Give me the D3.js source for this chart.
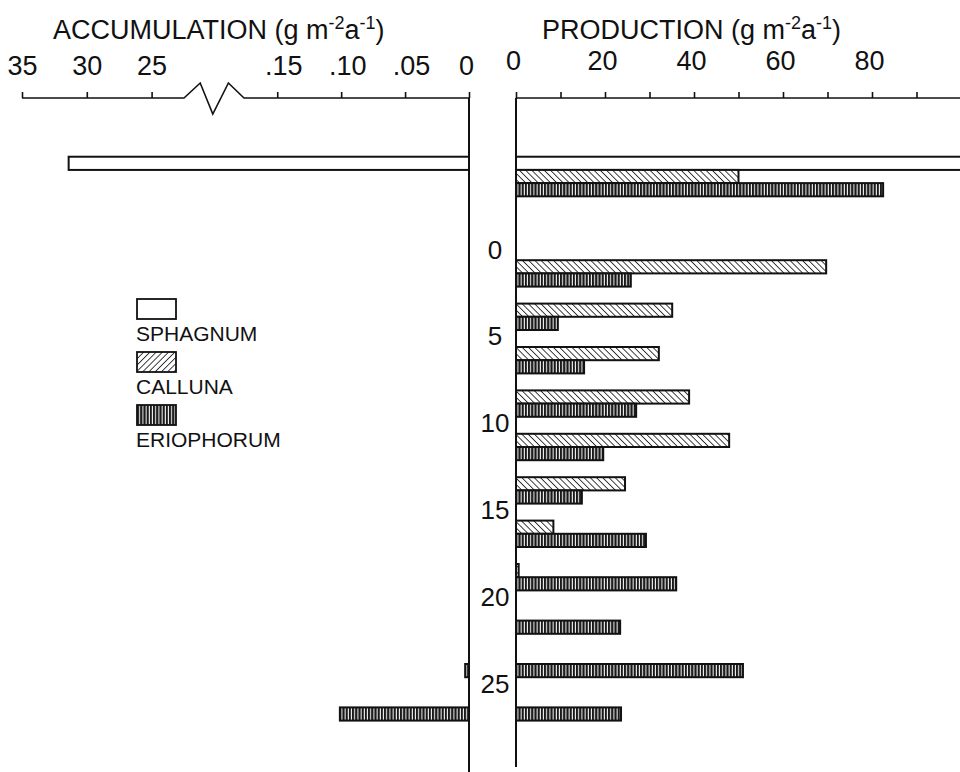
<!DOCTYPE html>
<html>
<head>
<meta charset="utf-8">
<script src="https://cdn.jsdelivr.net/npm/d3@7"></script>
<style>
  html, body { margin: 0; padding: 0; background: #fff; }
  svg { display: block; font-family: "Liberation Sans", Arial, Helvetica, sans-serif; }
</style>
</head>
<body>
<svg id="chart" width="960" height="772"></svg>
<script>
// ---------------- DATA ----------------
const series = ["SPHAGNUM", "CALLUNA", "ERIOPHORUM"];
// depth (cm) of the top of each 2.5 cm layer; the first entry is the surface (living) layer
const layerDepth = [-5.2, 0, 2.5, 5, 7.5, 10, 12.5, 15, 17.5, 20, 22.5, 25];
// production (g m-2 a-1)
const prodSphagnum   = [115, null, null, null, null, null, null, null, null, null, null, null];
const prodCalluna    = [50, 69.7, 35.1, 32.1, 38.9, 47.9, 24.5, 8.4, 0.6, null, null, null];
const prodEriophorum = [82.5, 25.8, 9.4, 15.3, 27.0, 19.6, 14.8, 29.2, 36.0, 23.4, 51.0, 23.6];
// accumulation (g m-2 a-1)
const accSphagnum    = [31.4, null, null, null, null, null, null, null, null, null, null, null];
const accCalluna     = [null, null, null, null, null, null, null, null, null, null, null, null];
const accEriophorum  = [null, null, null, null, null, null, null, null, null, null, 0.003, 0.101];
// axis ticks
const accTicks = [35, 30, 25, 0.15, 0.10, 0.05, 0];
const accTickLabels = ["35", "30", "25", ".15", ".10", ".05", "0"];
const prodTicks = [0, 10, 20, 30, 40, 50, 60, 70, 80, 90, 100];
const prodTickLabels = ["0", "", "20", "", "40", "", "60", "", "80", "", ""];
const depthTicks = [0, 5, 10, 15, 20, 25];
// axis break of the accumulation scale
const accBreak = [0.176, 22.5];

// ---------------- SCALES ----------------
const svg = d3.select("#chart");
const FONT = 27;
const INK = "#111";

const xAcc = d3.scaleLinear()
  .domain([0, accBreak[0], accBreak[1], 35])
  .range([469, 244, 184, 22]);
const xProd = d3.scaleLinear().domain([0, 100]).range([516, 961]);
const yDepth = d3.scaleLinear().domain([0, 25]).range([249, 683]);
const layerH = yDepth(2.5) - yDepth(0);
const sub = d3.scaleBand().domain(series).range([-2, layerH - 5.8]);

// ---------------- PATTERNS ----------------
const defs = svg.append("defs");
function hatch(id, dir) {
  const p = defs.append("pattern").attr("id", id)
    .attr("patternUnits", "userSpaceOnUse").attr("width", 4.4).attr("height", 4.4)
    .attr("patternTransform", `rotate(${dir})`);
  p.append("rect").attr("width", 4.4).attr("height", 4.4).attr("fill", "#fff");
  p.append("line").attr("x1", 0).attr("y1", 0).attr("x2", 0).attr("y2", 4.4)
    .attr("stroke", INK).attr("stroke-width", 1.6);
}
hatch("callunaBar", -45);
hatch("callunaLegend", 45);
const vp = defs.append("pattern").attr("id", "erio")
  .attr("patternUnits", "userSpaceOnUse").attr("width", 3.2).attr("height", 10);
vp.append("rect").attr("width", 3.2).attr("height", 10).attr("fill", "#fff");
vp.append("rect").attr("x", 0).attr("width", 2.2).attr("height", 10).attr("fill", "#1a1a1a");

const fills = { SPHAGNUM: "#fff", CALLUNA: "url(#callunaBar)", ERIOPHORUM: "url(#erio)" };
const legendFills = { SPHAGNUM: "#fff", CALLUNA: "url(#callunaLegend)", ERIOPHORUM: "url(#erio)" };

// ---------------- BARS ----------------
function records(arrs) {
  const out = [];
  layerDepth.forEach((d, i) => {
    series.forEach((s, j) => {
      const v = arrs[j][i];
      if (v != null) out.push({ depth: d, series: s, value: v });
    });
  });
  return out;
}
const prodData = records([prodSphagnum, prodCalluna, prodEriophorum]);
const accData = records([accSphagnum, accCalluna, accEriophorum]);

const gBars = svg.append("g");
gBars.selectAll("rect.prod").data(prodData).enter().append("rect")
  .attr("class", "prod")
  .attr("x", xProd(0))
  .attr("y", d => yDepth(d.depth) + sub(d.series))
  .attr("width", d => Math.max(1, xProd(d.value) - xProd(0)))
  .attr("height", sub.bandwidth())
  .attr("fill", d => fills[d.series])
  .attr("stroke", INK).attr("stroke-width", 2);

gBars.selectAll("rect.acc").data(accData).enter().append("rect")
  .attr("class", "acc")
  .attr("x", d => Math.min(xAcc(d.value), xAcc(0) - 2))
  .attr("y", d => yDepth(d.depth) + sub(d.series))
  .attr("width", d => Math.max(2, xAcc(0) - xAcc(d.value)))
  .attr("height", sub.bandwidth())
  .attr("fill", d => fills[d.series])
  .attr("stroke", INK).attr("stroke-width", 2);

// ---------------- AXES ----------------
const axisY = 98;
// production axis
const prodAxis = d3.axisTop(xProd).tickValues(prodTicks).tickSize(6)
  .tickFormat((d, i) => prodTickLabels[i]);
const gp = svg.append("g").attr("transform", `translate(0,${axisY})`).call(prodAxis);
gp.select(".domain").remove();
gp.selectAll(".tick line").attr("stroke", INK).attr("stroke-width", 1.6);
gp.selectAll(".tick text").attr("font-size", FONT).attr("fill", INK)
  .attr("font-family", "Liberation Sans, Arial, sans-serif")
  .attr("y", -28).attr("dy", 0).attr("dx", -3);
gp.append("line").attr("x1", xProd(0)).attr("x2", 960).attr("y1", 0).attr("y2", 0)
  .attr("stroke", INK).attr("stroke-width", 1.6);

// accumulation axis (broken)
const accAxis = d3.axisTop(xAcc).tickValues(accTicks).tickSize(6)
  .tickFormat((d, i) => accTickLabels[i]);
const ga = svg.append("g").attr("transform", `translate(0,${axisY})`).call(accAxis);
ga.select(".domain").remove();
ga.selectAll(".tick line").attr("stroke", INK).attr("stroke-width", 1.6);
ga.selectAll(".tick text").attr("font-size", FONT).attr("fill", INK)
  .attr("font-family", "Liberation Sans, Arial, sans-serif")
  .attr("y", -23).attr("dy", 0)
  .attr("dx", (d, i) => accTickLabels[i].startsWith(".") ? 6 : (i === 6 ? -3 : 0));
const bx0 = xAcc(accBreak[1]), bx1 = xAcc(accBreak[0]);
const bw = bx1 - bx0;
const brk = d3.line()([
  [xAcc(35), 0], [bx0, 0], [bx0 + bw * 0.27, -15], [bx0 + bw * 0.48, 16],
  [bx0 + bw * 0.74, -15], [bx1, 0], [xAcc(0), 0]
]);
ga.append("path").attr("d", brk).attr("fill", "none")
  .attr("stroke", INK).attr("stroke-width", 1.6).attr("stroke-linejoin", "miter");

// vertical zero lines
svg.append("line").attr("x1", xAcc(0)).attr("x2", xAcc(0)).attr("y1", axisY).attr("y2", 772)
  .attr("stroke", INK).attr("stroke-width", 2);
svg.append("line").attr("x1", xProd(0)).attr("x2", xProd(0)).attr("y1", axisY).attr("y2", 767)
  .attr("stroke", INK).attr("stroke-width", 2);

// depth labels
svg.append("g").selectAll("text").data(depthTicks).enter().append("text")
  .attr("x", 495).attr("y", d => yDepth(d) + 9.5)
  .attr("text-anchor", "middle").attr("font-size", 26).attr("fill", INK)
  .text(d => d);

// ---------------- TITLES ----------------
function unitTitle(x, y, label) {
  const t = svg.append("text").attr("x", x).attr("y", y)
    .attr("font-size", FONT).attr("fill", INK);
  t.append("tspan").text(label + " (g m");
  t.append("tspan").attr("font-size", 18).attr("dy", -10).text("-2");
  t.append("tspan").attr("dy", 10).text("a");
  t.append("tspan").attr("font-size", 18).attr("dy", -10).text("-1");
  t.append("tspan").attr("dy", 10).text(")");
}
unitTitle(53, 39, "ACCUMULATION");
unitTitle(542, 39, "PRODUCTION");

// ---------------- LEGEND ----------------
const leg = svg.append("g").attr("transform", "translate(137,299)");
const legItem = leg.selectAll("g").data(series).enter().append("g")
  .attr("transform", (d, i) => `translate(0,${i * 53})`);
legItem.append("rect").attr("width", 39).attr("height", 20)
  .attr("fill", d => legendFills[d]).attr("stroke", INK).attr("stroke-width", 1.8);
legItem.append("text").attr("x", -1).attr("y", 42).attr("font-size", 21)
  .attr("fill", INK).text(d => d);
</script>
</body>
</html>
